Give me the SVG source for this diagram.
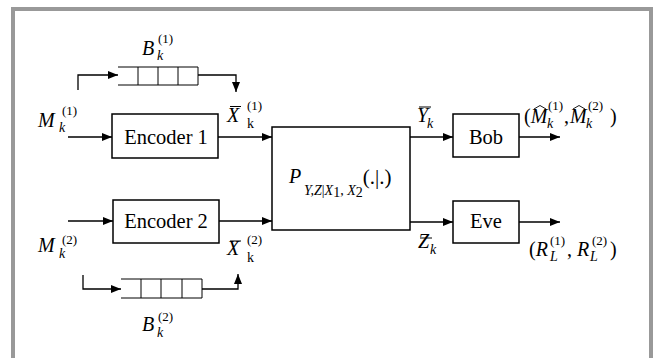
<svg xmlns="http://www.w3.org/2000/svg" width="660" height="358" viewBox="0 0 660 358">
<defs>
<style>
.ln{fill:none;stroke:#000;stroke-width:1.3}
.bx{fill:#fff;stroke:#000;stroke-width:1.5}
.t{font-family:"Liberation Serif","Times New Roman",serif;fill:#000}
.lbl{font-size:20.5px}
.m{font-size:20px;font-style:italic}
.sup{font-size:13px;font-style:normal}
.sub{font-size:14px;font-style:italic}
.subr{font-size:14px;font-style:normal}
</style>
<marker id="ah" markerUnits="userSpaceOnUse" markerWidth="11" markerHeight="9" refX="10" refY="4" orient="auto">
<path d="M0,0 L10,4 L0,8 z" fill="#000"/>
</marker>
</defs>
<rect width="660" height="358" fill="#fff"/>
<path d="M13,358 V9 H651 V358" fill="none" stroke="#999" stroke-width="4"/>

<g id="connectors">
<path class="ln" d="M68,137 H112" marker-end="url(#ah)"/>
<path class="ln" d="M218,137 H272" marker-end="url(#ah)"/>
<path class="ln" d="M68,221 H113" marker-end="url(#ah)"/>
<path class="ln" d="M219,221 H272" marker-end="url(#ah)"/>
<path class="ln" d="M410,137 H453" marker-end="url(#ah)"/>
<path class="ln" d="M410,222 H453" marker-end="url(#ah)"/>
<path class="ln" d="M519,137 H560" marker-end="url(#ah)"/>
<path class="ln" d="M519,222 H560" marker-end="url(#ah)"/>
<path class="ln" d="M78,90 V75 H118" marker-end="url(#ah)"/>
<path class="ln" d="M198,75 H236 V92" marker-end="url(#ah)"/>
<path class="ln" d="M83,275 V289 H121" marker-end="url(#ah)"/>
<path class="ln" d="M202,289 H238 V274" marker-end="url(#ah)"/>
</g>

<g id="buffer1">
<path d="M118,67 H198 M118,85 H198 M138,67 V85 M158,67 V85 M178,67 V85 M198,67 V85" fill="none" stroke="#000" stroke-width="1"/>
<text class="t m" x="142" y="55">B<tspan class="sub" x="157" y="60">k</tspan><tspan class="sup" x="158" y="43">(1)</tspan></text>
</g>

<g id="buffer2">
<path d="M121,279 H202 M121,298 H202 M141,279 V298 M161,279 V298 M182,279 V298 M202,279 V298" fill="none" stroke="#000" stroke-width="1"/>
<text class="t m" x="142" y="331">B<tspan class="sub" x="157" y="337">k</tspan><tspan class="sup" x="158" y="321">(2)</tspan></text>
</g>

<g id="m1">
<text class="t m" x="38" y="127">M<tspan class="sub" x="59" y="132">k</tspan><tspan class="sup" x="62" y="115">(1)</tspan></text>
</g>
<g id="m2">
<text class="t m" x="38" y="252">M<tspan class="sub" x="59" y="258">k</tspan><tspan class="sup" x="62" y="244">(2)</tspan></text>
</g>

<g id="encoder1">
<rect class="bx" x="112" y="114" width="106" height="44"/>
<text class="t lbl" x="166" y="144" text-anchor="middle">Encoder 1</text>
</g>
<g id="encoder2">
<rect class="bx" x="113" y="200" width="106" height="43"/>
<text class="t lbl" x="166" y="228" text-anchor="middle">Encoder 2</text>
</g>

<g id="x1">
<path d="M230,106.5 H241" stroke="#000" stroke-width="1"/>
<text class="t m" x="227" y="122">X<tspan class="subr" x="247" y="128">k</tspan><tspan class="sup" x="247" y="110">(1)</tspan></text>
</g>
<g id="x2">
<path d="M230,241 H241" stroke="#000" stroke-width="1"/>
<text class="t m" x="227" y="255">X<tspan class="subr" x="247" y="262">k</tspan><tspan class="sup" x="247" y="244">(2)</tspan></text>
</g>

<g id="channel">
<rect class="bx" x="272" y="127" width="138" height="103"/>
<text class="t m" x="289" y="183">P<tspan class="sub" x="304" y="195">Y,Z</tspan><tspan class="subr" y="195">|</tspan><tspan class="sub" y="195">X</tspan><tspan class="subr" font-size="11" y="197">1</tspan><tspan class="subr" y="195">, </tspan><tspan class="sub" y="195">X</tspan><tspan class="subr" font-size="11" y="197">2</tspan><tspan font-style="normal" font-size="21" y="184">(.|.)</tspan></text>
</g>

<g id="y">
<path d="M419,107 H431" stroke="#000" stroke-width="1"/>
<text class="t m" x="417" y="122">Y<tspan class="sub" x="427" y="128">k</tspan></text>
</g>
<g id="z">
<path d="M420,238 H432" stroke="#000" stroke-width="1"/>
<text class="t m" x="418" y="248">Z<tspan class="sub" x="430" y="254">k</tspan></text>
</g>

<g id="bob">
<rect class="bx" x="453" y="114" width="66" height="43"/>
<text class="t lbl" x="486" y="144" text-anchor="middle">Bob</text>
</g>
<g id="eve">
<rect class="bx" x="453" y="201" width="66" height="42"/>
<text class="t lbl" x="486" y="228" text-anchor="middle">Eve</text>
</g>

<g id="out-bob">
<path d="M534,109 L540,105.5 L546,109 M573,109 L579,105.5 L585,109" fill="none" stroke="#000" stroke-width="0.9"/>
<text class="t m" x="524" y="123"><tspan font-style="normal">(</tspan>M<tspan class="sub" x="547" y="128">k</tspan><tspan class="sup" x="548" y="110">(1)</tspan><tspan font-style="normal" x="564" y="123">,</tspan><tspan x="570" y="123">M</tspan><tspan class="sub" x="586" y="128">k</tspan><tspan class="sup" x="588" y="110">(2)</tspan><tspan font-style="normal" x="610" y="123">)</tspan></text>
</g>
<g id="out-eve">
<text class="t m" x="529" y="256"><tspan font-style="normal">(</tspan>R<tspan class="sub" x="550" y="261">L</tspan><tspan class="sup" x="550" y="245">(1)</tspan><tspan font-style="normal" x="567" y="256">,</tspan><tspan x="577" y="256">R</tspan><tspan class="sub" x="590" y="261">L</tspan><tspan class="sup" x="592" y="245">(2)</tspan><tspan font-style="normal" x="610" y="256">)</tspan></text>
</g>
</svg>
